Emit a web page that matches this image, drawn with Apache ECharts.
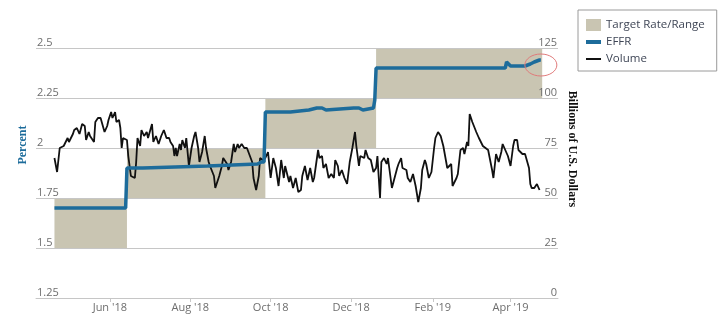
<!DOCTYPE html>
<html>
<head>
<meta charset="utf-8">
<script src="https://cdn.jsdelivr.net/npm/echarts@6/dist/echarts.min.js"></script>
<style>
  html, body { margin: 0; padding: 0; background: #fff; }
  #chart { width: 723px; height: 322px; }
</style>
</head>
<body>
<div id="chart"></div>
<script>
// Fed funds target range (percent)
const targetStarts = ['2018-04-20', '2018-06-14', '2018-09-27', '2018-12-20'];
const targetEnds   = ['2018-06-13', '2018-09-26', '2018-12-19', '2019-04-24'];
const targetLows   = [1.50, 1.75, 2.00, 2.25];
const targetHighs  = [1.75, 2.00, 2.25, 2.50];

// Effective federal funds rate (percent)
const effrDates = [
  '2018-04-20', '2018-04-26', '2018-04-27', '2018-04-30', '2018-06-13', '2018-06-14',
  '2018-06-26', '2018-06-27', '2018-08-14', '2018-08-15', '2018-09-21', '2018-09-24',
  '2018-09-26', '2018-09-27', '2018-10-16', '2018-10-17', '2018-10-30', '2018-10-31',
  '2018-11-05', '2018-11-06', '2018-11-07', '2018-11-09', '2018-11-12', '2018-11-13',
  '2018-12-03', '2018-12-04', '2018-12-05', '2018-12-07', '2018-12-10', '2018-12-11',
  '2018-12-18', '2018-12-19', '2018-12-20', '2019-03-20', '2019-03-21', '2019-03-22',
  '2019-03-28', '2019-03-29', '2019-04-01', '2019-04-12', '2019-04-16', '2019-04-19',
  '2019-04-23', '2019-04-24'
];
const effrValues = [
  1.70, 1.70, 1.69, 1.70, 1.70, 1.90,
  1.90, 1.91, 1.91, 1.92, 1.92, 1.93,
  1.93, 2.18, 2.18, 2.19, 2.19, 2.20,
  2.20, 2.19, 2.20, 2.20, 2.19, 2.20,
  2.20, 2.19, 2.20, 2.20, 2.19, 2.20,
  2.20, 2.24, 2.40, 2.40, 2.41, 2.40,
  2.40, 2.43, 2.41, 2.41, 2.42, 2.43,
  2.44, 2.44
];

// Daily volume (billions of U.S. dollars)
const volumeDates = [
  '2018-04-20', '2018-04-22', '2018-04-24', '2018-04-27', '2018-04-28', '2018-04-30',
  '2018-05-01', '2018-05-04', '2018-05-05', '2018-05-07', '2018-05-09', '2018-05-11',
  '2018-05-13', '2018-05-14', '2018-05-16', '2018-05-17', '2018-05-20', '2018-05-21',
  '2018-05-23', '2018-05-25', '2018-05-26', '2018-05-28', '2018-05-30', '2018-05-31',
  '2018-06-02', '2018-06-03', '2018-06-05', '2018-06-06', '2018-06-08', '2018-06-09',
  '2018-06-10', '2018-06-11', '2018-06-14', '2018-06-15', '2018-06-17', '2018-06-20',
  '2018-06-21', '2018-06-22', '2018-06-24', '2018-06-25', '2018-06-27', '2018-06-29',
  '2018-06-30', '2018-07-03', '2018-07-04', '2018-07-06', '2018-07-08', '2018-07-10',
  '2018-07-12', '2018-07-14', '2018-07-16', '2018-07-17', '2018-07-19', '2018-07-20',
  '2018-07-21', '2018-07-22', '2018-07-24', '2018-07-25', '2018-07-26', '2018-07-28',
  '2018-07-29', '2018-07-31', '2018-08-02', '2018-08-04', '2018-08-05', '2018-08-07',
  '2018-08-08', '2018-08-10', '2018-08-12', '2018-08-13', '2018-08-15', '2018-08-16',
  '2018-08-19', '2018-08-20', '2018-08-23', '2018-08-25', '2018-08-26', '2018-08-29',
  '2018-08-30', '2018-09-01', '2018-09-03', '2018-09-04', '2018-09-06', '2018-09-07',
  '2018-09-09', '2018-09-11', '2018-09-13', '2018-09-14', '2018-09-17', '2018-09-18',
  '2018-09-20', '2018-09-22', '2018-09-23', '2018-09-25', '2018-09-27', '2018-09-29',
  '2018-10-01', '2018-10-03', '2018-10-05', '2018-10-07', '2018-10-09', '2018-10-11',
  '2018-10-12', '2018-10-15', '2018-10-16', '2018-10-18', '2018-10-20', '2018-10-22',
  '2018-10-24', '2018-10-25', '2018-10-27', '2018-10-29', '2018-10-31', '2018-11-02',
  '2018-11-03', '2018-11-06', '2018-11-07', '2018-11-09', '2018-11-10', '2018-11-12',
  '2018-11-14', '2018-11-16', '2018-11-18', '2018-11-19', '2018-11-21', '2018-11-22',
  '2018-11-24', '2018-11-26', '2018-11-28', '2018-11-30', '2018-12-02', '2018-12-04',
  '2018-12-05', '2018-12-07', '2018-12-08', '2018-12-11', '2018-12-12', '2018-12-14',
  '2018-12-16', '2018-12-18', '2018-12-20', '2018-12-21', '2018-12-23', '2018-12-24',
  '2018-12-26', '2018-12-28', '2018-12-29', '2018-12-30', '2019-01-01', '2019-01-02',
  '2019-01-05', '2019-01-06', '2019-01-08', '2019-01-09', '2019-01-12', '2019-01-13',
  '2019-01-15', '2019-01-17', '2019-01-19', '2019-01-21', '2019-01-23', '2019-01-24',
  '2019-01-26', '2019-01-27', '2019-01-29', '2019-01-31', '2019-02-02', '2019-02-03',
  '2019-02-05', '2019-02-07', '2019-02-09', '2019-02-10', '2019-02-12', '2019-02-13',
  '2019-02-15', '2019-02-16', '2019-02-19', '2019-02-20', '2019-02-22', '2019-02-24',
  '2019-02-25', '2019-02-27', '2019-02-28', '2019-03-01', '2019-03-03', '2019-03-04',
  '2019-03-06', '2019-03-08', '2019-03-09', '2019-03-11', '2019-03-12', '2019-03-15',
  '2019-03-16', '2019-03-18', '2019-03-19', '2019-03-21', '2019-03-23', '2019-03-25',
  '2019-03-26', '2019-03-28', '2019-03-29', '2019-03-30', '2019-03-31', '2019-04-01',
  '2019-04-03', '2019-04-04', '2019-04-06', '2019-04-07', '2019-04-10', '2019-04-12',
  '2019-04-13', '2019-04-15', '2019-04-16', '2019-04-17', '2019-04-19', '2019-04-21',
  '2019-04-22', '2019-04-23'
];
const volumeValues = [
  70, 63, 75, 76, 75, 80,
  78, 82, 84, 85, 82, 87,
  86, 79, 83, 81, 78, 88,
  90, 90, 90, 83, 86, 89,
  93, 90, 93, 88, 89, 85,
  75, 80, 79, 71, 61, 60,
  68, 80, 76, 84, 81, 83,
  80, 87, 78, 81, 77, 81,
  84, 80, 80, 78, 76, 71,
  75, 71, 77, 74, 79, 75,
  80, 66, 75, 81, 83, 75,
  68, 73, 81, 75, 68, 66,
  61, 55, 61, 66, 70, 67,
  64, 68, 77, 73, 77, 75,
  77, 75, 75, 75, 68, 60,
  54, 61, 70, 69, 70, 73,
  60, 70, 65, 56, 69, 60,
  66, 58, 61, 55, 60, 53,
  54, 61, 66, 59, 65, 58,
  60, 74, 70, 71, 65, 67,
  60, 62, 60, 69, 66, 61,
  64, 60, 57, 68, 75, 83,
  76, 66, 71, 70, 74, 70,
  69, 63, 65, 71, 50, 68,
  70, 67, 70, 65, 55, 55,
  65, 67, 70, 65, 64, 60,
  58, 62, 56, 48, 55, 64,
  69, 67, 60, 63, 75, 80,
  83, 81, 76, 75, 65, 65,
  67, 56, 60, 62, 74, 75,
  72, 78, 76, 92, 88, 88,
  83, 80, 80, 76, 77, 74,
  75, 64, 60, 72, 68, 73,
  77, 74, 75, 71, 72, 66,
  76, 79, 79, 74, 72, 72,
  72, 65, 57, 55, 55, 57,
  58, 54
];

// Bottom axis tick positions and their labels
const tickDates  = ['2018-06-01', '2018-08-01', '2018-10-01', '2018-12-01', '2019-02-01', '2019-04-01'];
const tickLabels = ["Jun '18", "Aug '18", "Oct '18", "Dec '18", "Feb '19", "Apr '19"];

// Visible time window of the plot
const axisStart = '2018-04-06';
const axisEnd   = '2019-05-07';

const ts = d => new Date(d + 'T00:00:00Z').getTime();
const tickTs = tickDates.map(ts);
const labelFor = {};
tickTs.forEach((t, i) => { labelFor[t] = tickLabels[i]; });

const effrData = effrDates.map((d, i) => [ts(d), effrValues[i]]);
const volumeData = volumeDates.map((d, i) => [ts(d), volumeValues[i]]);
const targetData = targetStarts.map((d, i) => [ts(d), ts(targetEnds[i]) + 86400000, targetLows[i], targetHighs[i]]);

const BLUE = '#1d6c9b';
const TAN = '#c9c5b2';
const FONT = 'Open Sans';
const TITLE_FONT = 'Liberation Serif';

const chart = echarts.init(document.getElementById('chart'), null, { renderer: 'canvas' });

// Legend swatches: a filled block, a thick bar and a thin bar inside the same 15x12 box
const blockIcon = 'path://M0,0h15v12h-15z';
const thickIcon = 'path://M0,0h0.01v0.01h-0.01z M15,12h-0.01v-0.01h0.01z M0,4h15v4h-15z';
const thinIcon  = 'path://M0,0h0.01v0.01h-0.01z M15,12h-0.01v-0.01h0.01z M0,5h15v2h-15z';

chart.setOption({
  animation: false,
  textStyle: { fontFamily: FONT },
  grid: { left: 36, right: 165, top: 48, bottom: 24, containLabel: false },
  legend: {
    orient: 'vertical',
    left: 578,
    top: 10,
    padding: [9, 12, 6, 8],
    itemGap: 5,
    itemWidth: 15,
    itemHeight: 12,
    borderColor: '#9a9a9a',
    borderWidth: 1,
    selectedMode: false,
    textStyle: { fontFamily: FONT, fontSize: 11.5, color: '#3f4656' },
    itemStyle: { borderWidth: 0 },
    data: [
      { name: 'Target Rate/Range', icon: blockIcon },
      { name: 'EFFR', icon: thickIcon },
      { name: 'Volume', icon: thinIcon }
    ]
  },
  xAxis: {
    type: 'value',
    min: ts(axisStart),
    max: ts(axisEnd),
    axisLine: { show: true, lineStyle: { color: '#c8c8c8' } },
    axisTick: { show: true, length: 4, lineStyle: { color: '#c8c8c8' }, customValues: tickTs },
    axisLabel: {
      customValues: tickTs,
      formatter: v => labelFor[v] || '',
      color: '#6e6e6e',
      fontSize: 11,
      fontFamily: FONT,
      margin: 4
    },
    splitLine: { show: false }
  },
  yAxis: [
    {
      type: 'value',
      z: 3,
      min: 1.25,
      max: 2.5,
      interval: 0.25,
      position: 'left',
      axisLine: { show: false },
      axisTick: { show: false },
      axisLabel: {
        inside: true,
        margin: 1,
        verticalAlign: 'bottom',
        color: '#6e6e6e',
        fontSize: 11,
        fontFamily: FONT
      },
      splitLine: { show: true, lineStyle: { color: '#c6c6c6', width: 1 } }
    },
    {
      type: 'value',
      z: 3,
      min: 0,
      max: 125,
      interval: 25,
      position: 'right',
      axisLine: { show: false },
      axisTick: { show: false },
      axisLabel: {
        inside: true,
        margin: 1,
        verticalAlign: 'bottom',
        color: '#6e6e6e',
        fontSize: 11,
        fontFamily: FONT
      },
      splitLine: { show: false }
    }
  ],
  graphic: [
    {
      id: 'title-left',
      type: 'text',
      x: 23,
      y: 145,
      rotation: Math.PI / 2,
      style: {
        text: 'Percent',
        fill: BLUE,
        font: 'bold 12px "' + TITLE_FONT + '"',
        textAlign: 'center',
        textVerticalAlign: 'middle'
      }
    },
    {
      id: 'title-right',
      type: 'text',
      x: 572,
      y: 149,
      rotation: -Math.PI / 2,
      style: {
        text: 'Billions of U.S. Dollars',
        fill: '#111',
        font: 'bold 12px "' + TITLE_FONT + '"',
        textAlign: 'center',
        textVerticalAlign: 'middle'
      }
    }
  ],
  series: [
    {
      name: 'Target Rate/Range',
      type: 'custom',
      xAxisIndex: 0,
      yAxisIndex: 0,
      z: 1,
      itemStyle: { color: TAN },
      encode: { x: [0, 1], y: [2, 3] },
      data: targetData,
      renderItem: (params, api) => {
        const p0 = api.coord([api.value(0), api.value(3)]);
        const p1 = api.coord([api.value(1), api.value(2)]);
        return {
          type: 'rect',
          shape: { x: p0[0], y: p0[1], width: p1[0] - p0[0], height: p1[1] - p0[1] },
          style: { fill: TAN }
        };
      }
    },
    {
      name: 'Volume',
      type: 'line',
      yAxisIndex: 1,
      z: 4,
      symbol: 'none',
      color: '#111',
      itemStyle: { color: '#111' },
      lineStyle: { color: '#111', width: 1.8 },
      data: volumeData
    },
    {
      name: 'EFFR',
      type: 'line',
      yAxisIndex: 0,
      z: 5,
      symbol: 'none',
      color: BLUE,
      itemStyle: { color: BLUE },
      lineStyle: { color: BLUE, width: 3.5 },
      data: effrData
    }
  ]
});

// Red ring highlighting the latest EFFR readings
const last = effrData[effrData.length - 1];
const c = chart.convertToPixel({ xAxisIndex: 0, yAxisIndex: 0 }, last);
chart.setOption({
  graphic: [{
    id: 'ring',
    type: 'ellipse',
    z: 10,
    shape: { cx: c[0], cy: c[1] + 5, rx: 16, ry: 11 },
    style: { fill: 'none', stroke: '#e07a7a', lineWidth: 1 }
  }]
});
</script>
</body>
</html>
